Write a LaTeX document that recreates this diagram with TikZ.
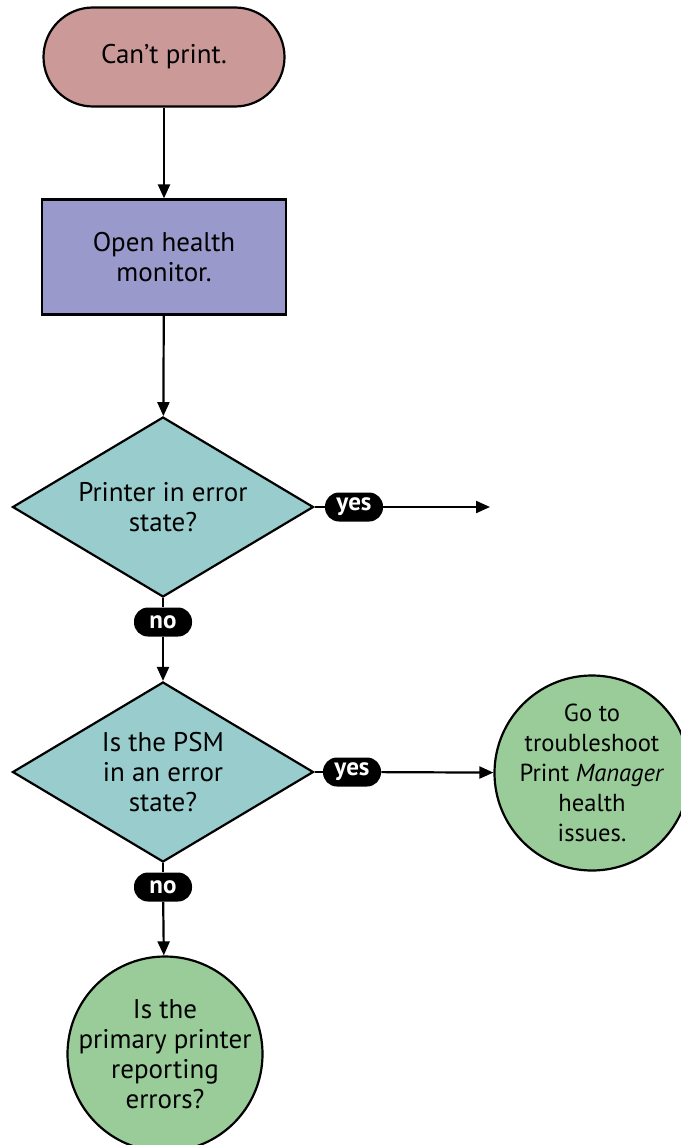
\documentclass[tikz,border=0pt]{standalone}
\usepackage{fontspec}
\setmainfont{PT Sans}
\usetikzlibrary{positioning,arrows.meta,shapes.geometric}
\definecolor{fcRed}{RGB}{204,153,153}
\definecolor{fcBlue}{RGB}{153,153,204}
\definecolor{fcTeal}{RGB}{153,204,204}
\definecolor{fcGreen}{RGB}{153,204,153}

\tikzset{
  base/.style={draw=black, line width=1.1pt, align=center,
    font=\fontsize{13.5}{15}\selectfont},
  termbox/.style={base, fill=fcRed, rounded corners=24.75pt,
    minimum width=120.5pt, minimum height=49.5pt},
  stepbox/.style={base, fill=fcBlue, minimum width=122pt, minimum height=57.5pt},
  decision/.style={base, diamond, fill=fcTeal, inner sep=-8pt,
    minimum width=150.5pt, minimum height=90pt},
  endcircle/.style={base, circle, fill=fcGreen, inner sep=-10pt, minimum size=97.5pt},
  answer/.style={fill=black, text=white, rounded corners=7pt, inner sep=1.5pt,
    minimum width=29pt, minimum height=14.5pt, font=\fontsize{12.5}{13}\selectfont\bfseries},
  flow/.style={line width=1.1pt, -{Triangle[length=7pt,width=6pt]}},
  link/.style={line width=1.1pt}
}

\begin{document}
\begin{tikzpicture}[x=0.5pt,y=-0.5pt]
  \useasboundingbox (0,0) rectangle (680,1145);

  % main column
  \node[termbox] (cant) at (164,57) {Can't print.};
  \node[stepbox] (open) at (164,257) {Open health\\monitor.};
  \node[decision] (errstate) at (163,507) {Printer in error\\state?};
  \node[decision] (psmstate) at (163,772) {Is the PSM\\in an error\\state?};
  \node[endcircle] (primary) at (165,1054) {Is the\\primary printer\\reporting\\errors?};

  % side branch
  \node[endcircle, font=\fontsize{12.3}{15}\selectfont] (gotopm) at (592,773) {Go to\\troubleshoot\\Print \textit{Manager}\\health\\issues.};
  \coordinate (errout) at (490,507);

  % yes / no tags
  \node[answer] (yes1) at (354,507) {yes};
  \node[answer] (no1) at (163,622) {no};
  \node[answer] (yes2) at (352,772) {yes};
  \node[answer] (no2) at (163,887) {no};

  % connectors
  \draw[flow] (cant) -- (open);
  \draw[flow] (open) -- (errstate);
  \draw[link] (errstate) -- (yes1);
  \draw[flow] (yes1) -- (errout);
  \draw[link] (errstate) -- (no1);
  \draw[flow] (no1) -- (psmstate);
  \draw[link] (psmstate) -- (yes2);
  \draw[flow] (yes2) -- (gotopm);
  \draw[link] (psmstate) -- (no2);
  \draw[flow] (no2) -- (primary);
\end{tikzpicture}
\end{document}
